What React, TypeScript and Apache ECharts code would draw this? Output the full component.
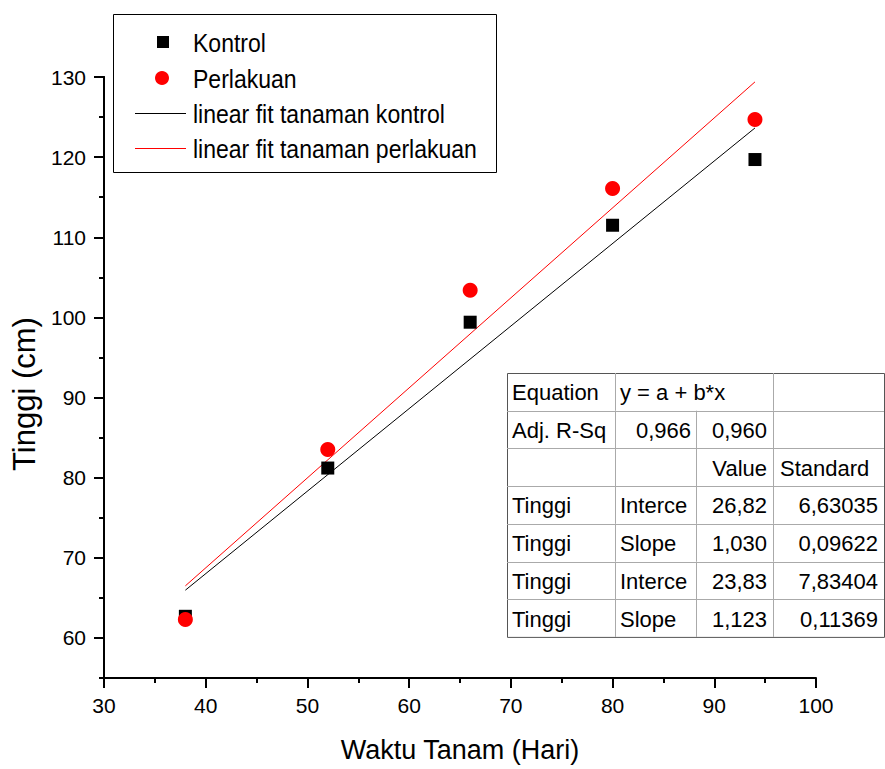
import React, { useEffect, useRef } from "react";
import * as echarts from "echarts";

const days = [38, 52, 66, 80, 94];
const kontrol = [62.7, 81.2, 99.4, 111.5, 119.7];
const perlakuan = [62.3, 83.5, 103.4, 116.1, 124.7];
const fitX = [38, 94];
const fitKontrol = [65.96, 123.64];
const fitPerlakuan = [66.5, 129.39];
const yTickLabels = [60, 70, 80, 90, 100, 110, 120, 130];
const legendNames = ["Kontrol", "Perlakuan", "linear fit tanaman kontrol", "linear fit tanaman perlakuan"];
const tableRows = [
  ["Equation", "y = a + b*x", "", ""],
  ["Adj. R-Sq", "0,966", "0,960", ""],
  ["", "", "Value", "Standard"],
  ["Tinggi", "Interce", "26,82", "6,63035"],
  ["Tinggi", "Slope", "1,030", "0,09622"],
  ["Tinggi", "Interce", "23,83", "7,83404"],
  ["Tinggi", "Slope", "1,123", "0,11369"],
];

const SANS = "'Liberation Sans', Arial, sans-serif";

function buildTable() {
  const left = 507, right = 884, top = 373, rowH = 37.7;
  const cols = [507, 615, 696, 773, 884];
  const els: any[] = [];
  const n = tableRows.length;
  const bottom = top + rowH * n;
  els.push({ type: "rect", shape: { x: left + 0.5, y: top + 0.5, width: right - left, height: bottom - top }, style: { fill: "#fff", stroke: "#555", lineWidth: 1 }, z: 10 });
  for (let i = 1; i < n; i++) {
    const y = Math.round(top + rowH * i) + 0.5;
    els.push({ type: "line", shape: { x1: left, y1: y, x2: right, y2: y }, style: { stroke: "#aaa", lineWidth: 1 }, z: 11 });
  }
  for (let i = 0; i < n; i++) {
    const y1 = top + rowH * i, y2 = top + rowH * (i + 1);
    const seps = i === 0 ? [1, 3] : [1, 2, 3];
    seps.forEach((c) => {
      const x = cols[c] + 0.5;
      els.push({ type: "line", shape: { x1: x, y1, x2: x, y2 }, style: { stroke: "#aaa", lineWidth: 1 }, z: 11 });
    });
    tableRows[i].forEach((t, c) => {
      if (!t) return;
      let x = cols[c] + 5;
      let align = "left";
      if (c === 1 && i === 1) { x = cols[2] - 5; align = "right"; }
      if (c === 2) { x = cols[3] - 6; align = "right"; }
      if (c === 3 && i >= 3) { x = cols[4] - 6; align = "right"; }
      if (c === 3 && i === 2) { x = cols[3] + 7; }
      els.push({ type: "text", x, y: y1 + rowH / 2 + 1, z: 12, style: { text: t, fill: "#000", font: `22px ${SANS}`, align, verticalAlign: "middle" } });
    });
  }
  return els;
}

function buildLegend() {
  const els: any[] = [];
  els.push({ type: "rect", shape: { x: 113.5, y: 14.5, width: 383, height: 158 }, style: { fill: "#fff", stroke: "#000", lineWidth: 1 }, z: 10 });
  const ys = [42, 78, 113, 148];
  els.push({ type: "rect", shape: { x: 157, y: ys[0] - 6, width: 12, height: 12 }, style: { fill: "#000" }, z: 11 });
  els.push({ type: "circle", shape: { cx: 162, cy: ys[1], r: 7 }, style: { fill: "#ff0000" }, z: 11 });
  els.push({ type: "line", shape: { x1: 135, y1: ys[2] + 0.5, x2: 186, y2: ys[2] + 0.5 }, style: { stroke: "#000", lineWidth: 1 }, z: 11 });
  els.push({ type: "line", shape: { x1: 135, y1: ys[3] + 0.5, x2: 186, y2: ys[3] + 0.5 }, style: { stroke: "#ff0000", lineWidth: 1 }, z: 11 });
  legendNames.forEach((name, i) => {
    els.push({ type: "text", x: 193, y: ys[i] + 1, scaleX: 0.885, z: 11, style: { text: name, fill: "#000", font: `26px ${SANS}`, align: "left", verticalAlign: "middle" } });
  });
  return els;
}

export default function App() {
  const ref = useRef<HTMLDivElement>(null);
  useEffect(() => {
    if (!ref.current) return;
    const chart = echarts.init(ref.current, null, { renderer: "svg" });
    const axisLine = { show: true, lineStyle: { color: "#000", width: 2 } };
    const tickStyle = { color: "#000", width: 2 };
    chart.setOption({
      animation: false,
      backgroundColor: "#fff",
      grid: { left: 104, right: 69, top: 77, bottom: 91, containLabel: false },
      xAxis: {
        type: "value",
        min: 30,
        max: 100,
        interval: 10,
        name: "Waktu Tanam (Hari)",
        nameLocation: "middle",
        nameGap: 58,
        nameTextStyle: { fontSize: 27, fontFamily: SANS, color: "#000" },
        axisLine,
        axisTick: { show: true, length: 10, lineStyle: tickStyle },
        minorTick: { show: true, splitNumber: 2, length: 5, lineStyle: tickStyle },
        axisLabel: { fontSize: 21, fontFamily: SANS, color: "#000", margin: 17 },
        splitLine: { show: false },
      },
      yAxis: [
        {
          type: "value",
          min: 55,
          max: 130,
          interval: 5,
          axisLine,
          axisTick: { show: true, length: 5, lineStyle: tickStyle },
          axisLabel: { show: false },
          splitLine: { show: false },
        },
        {
          type: "value",
          min: 55,
          max: 130,
          position: "left",
          name: "Tinggi (cm)",
          nameLocation: "middle",
          nameGap: 64,
          nameTextStyle: { fontSize: 31, fontFamily: SANS, color: "#000", padding: [0, 33, 0, 0] },
          axisLine,
          axisTick: { show: true, inside: false, length: 10, customValues: yTickLabels, lineStyle: tickStyle },
          axisLabel: { customValues: yTickLabels, fontSize: 21, fontFamily: SANS, color: "#000", margin: 18 },
          splitLine: { show: false },
        },
      ],
      series: [
        {
          name: legendNames[2],
          type: "line",
          data: fitX.map((x, i) => [x, fitKontrol[i]]),
          showSymbol: false,
          lineStyle: { color: "#000", width: 1 },
          z: 2,
        },
        {
          name: legendNames[3],
          type: "line",
          data: fitX.map((x, i) => [x, fitPerlakuan[i]]),
          showSymbol: false,
          lineStyle: { color: "#ff0000", width: 1 },
          z: 2,
        },
        {
          name: legendNames[0],
          type: "scatter",
          symbol: "rect",
          symbolSize: 13,
          itemStyle: { color: "#000", opacity: 1 },
          data: days.map((d, i) => [d, kontrol[i]]),
          z: 3,
        },
        {
          name: legendNames[1],
          type: "scatter",
          symbol: "circle",
          symbolSize: 15,
          itemStyle: { color: "#ff0000", opacity: 1 },
          data: days.map((d, i) => [d, perlakuan[i]]),
          z: 4,
        },
      ],
      graphic: [...buildLegend(), ...buildTable()],
    });
    return () => chart.dispose();
  }, []);
  return <div ref={ref} style={{ position: "fixed", left: 0, top: 0, width: 885, height: 769 }} />;
}
